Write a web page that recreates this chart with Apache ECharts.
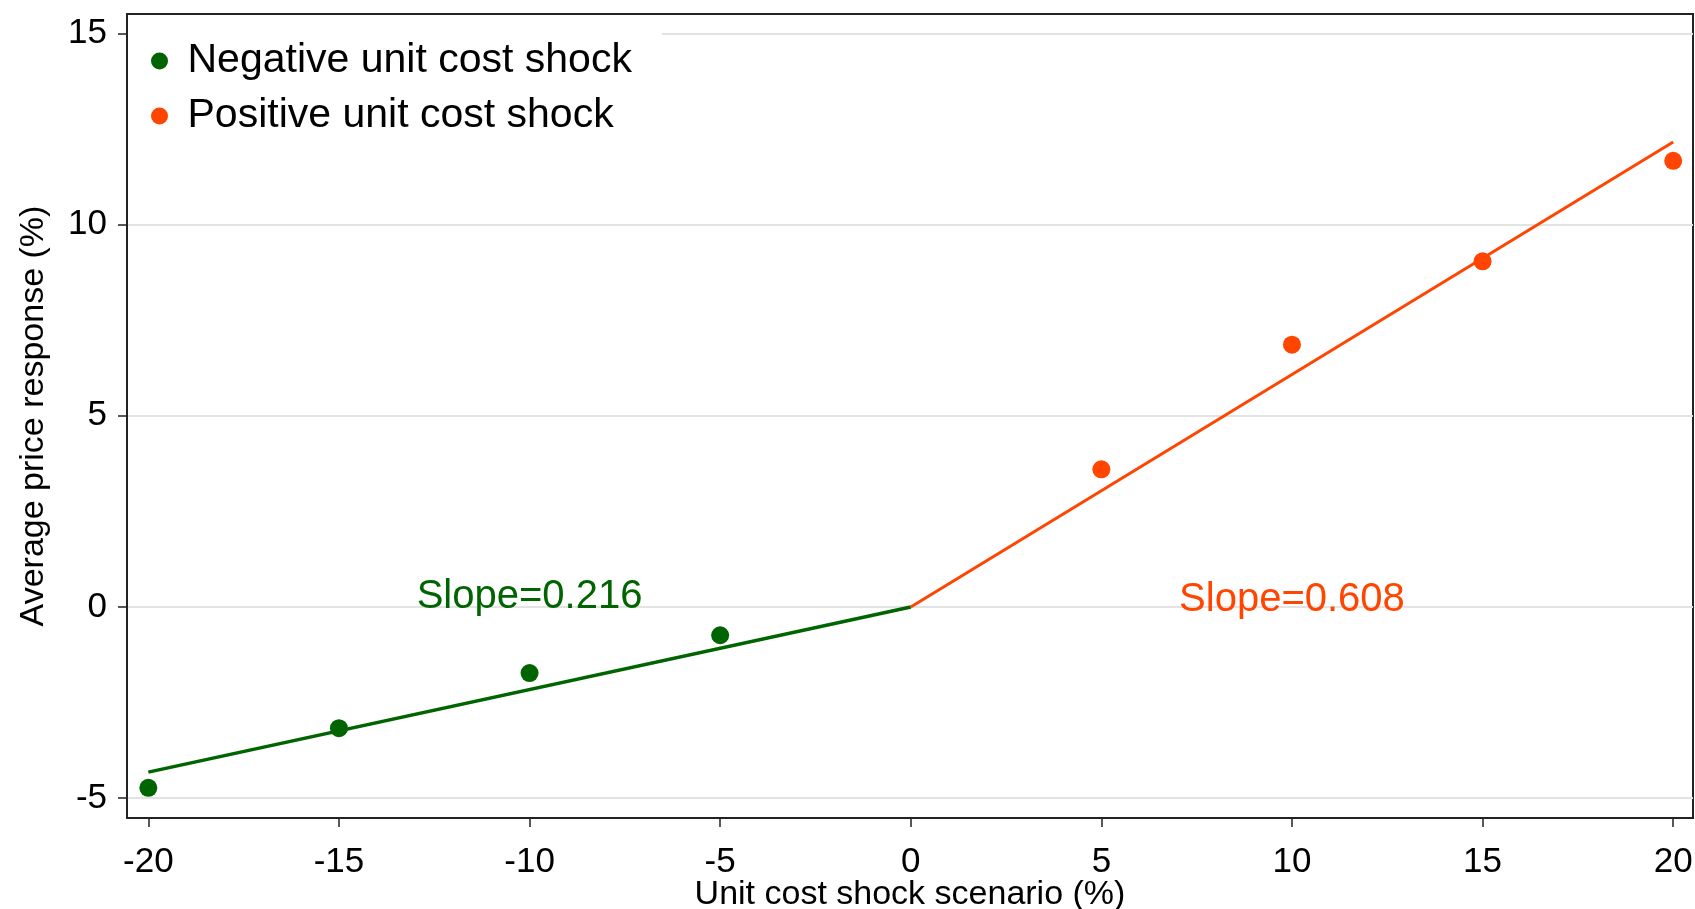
<!DOCTYPE html>
<html>
<head>
<meta charset="utf-8">
<script src="https://cdn.jsdelivr.net/npm/echarts@6/dist/echarts.min.js"></script>
<style>
html,body{margin:0;padding:0;background:#fff;}
#chart{width:1695px;height:909px;}
</style>
</head>
<body>
<div id="chart"></div>
<script>
// ---- data ----
const negShock = [-20, -15, -10, -5];
const negResponse = [-4.73, -3.17, -1.73, -0.74];
const posShock = [5, 10, 15, 20];
const posResponse = [3.60, 6.86, 9.04, 11.67];
const negFitX = [-20, 0];
const negFitY = [-4.32, 0];
const posFitX = [0, 20];
const posFitY = [0, 12.16];
const xTicks = [-20, -15, -10, -5, 0, 5, 10, 15, 20];
const yTicks = [-5, 0, 5, 10, 15];
const negSlopeText = 'Slope=0.216';
const posSlopeText = 'Slope=0.608';
const negName = 'Negative unit cost shock';
const posName = 'Positive unit cost shock';

const GREEN = '#006400';
const ORANGE = '#ff4500';
const FONT = 'Liberation Sans, Arial, sans-serif';

const zip = (a, b) => a.map((v, i) => [v, b[i]]);

const chart = echarts.init(document.getElementById('chart'));
chart.setOption({
  backgroundColor: '#fff',
  animation: false,
  grid: {
    left: 127, top: 14, right: 2, bottom: 91,
    outerBoundsMode: 'none',
    containLabel: false,
    show: true, borderColor: '#222', borderWidth: 2, backgroundColor: 'transparent'
  },
  legend: {
    left: 128, top: 23,
    orient: 'vertical',
    data: [negName, posName],
    icon: 'circle',
    itemWidth: 46, itemHeight: 17,
    itemGap: 11,
    padding: [16, 30, 16, 23],
    backgroundColor: '#fff',
    textStyle: { fontFamily: FONT, fontSize: 41, color: '#000', lineHeight: 44 }
  },
  xAxis: {
    type: 'value', min: -20.56, max: 20.52,
    axisLine: { show: true, onZero: false, lineStyle: { color: '#222', width: 2 } },
    axisTick: { show: true, length: 9, customValues: xTicks, lineStyle: { color: '#222', width: 1.5 } },
    axisLabel: { customValues: xTicks, fontFamily: FONT, fontSize: 35, color: '#000', margin: 27 },
    splitLine: { show: false },
    name: 'Unit cost shock scenario (%)',
    nameLocation: 'middle', nameGap: 60, nameMoveOverlap: false,
    nameTextStyle: { fontFamily: FONT, fontSize: 34, color: '#000', lineHeight: 34 }
  },
  yAxis: {
    type: 'value', min: -5.52, max: 15.51,
    axisLine: { show: true, onZero: false, lineStyle: { color: '#222', width: 2 } },
    axisTick: { show: true, length: 9, customValues: yTicks, lineStyle: { color: '#222', width: 1.5 } },
    axisLabel: { customValues: yTicks, fontFamily: FONT, fontSize: 35, color: '#000', margin: 20 },
    splitLine: { show: true, lineStyle: { color: '#e3e3e3', width: 2 } },
    name: 'Average price response (%)',
    nameLocation: 'middle', nameGap: 76, nameRotate: 90, nameMoveOverlap: false,
    nameTextStyle: { fontFamily: FONT, fontSize: 34, color: '#000' }
  },
  series: [
    {
      name: 'negFit', type: 'line', data: zip(negFitX, negFitY),
      symbol: 'none', lineStyle: { color: GREEN, width: 3.5 }, silent: true, z: 2
    },
    {
      name: 'posFit', type: 'line', data: zip(posFitX, posFitY),
      symbol: 'none', lineStyle: { color: ORANGE, width: 3 }, silent: true, z: 2
    },
    {
      name: negName, type: 'scatter', data: zip(negShock, negResponse),
      symbol: 'circle', symbolSize: 18, itemStyle: { color: GREEN, opacity: 1 }, z: 3
    },
    {
      name: posName, type: 'scatter', data: zip(posShock, posResponse),
      symbol: 'circle', symbolSize: 18, itemStyle: { color: ORANGE, opacity: 1 }, z: 3
    },
    {
      name: 'labels', type: 'scatter', symbolSize: 0, silent: true, z: 4,
      itemStyle: { opacity: 1 },
      data: [
        { value: [-10, 0.26], label: { formatter: negSlopeText, color: GREEN } },
        { value: [10, 0.18], label: { formatter: posSlopeText, color: ORANGE } }
      ],
      label: { show: true, position: 'inside', fontFamily: FONT, fontSize: 40, opacity: 1 }
    }
  ]
});
</script>
</body>
</html>
